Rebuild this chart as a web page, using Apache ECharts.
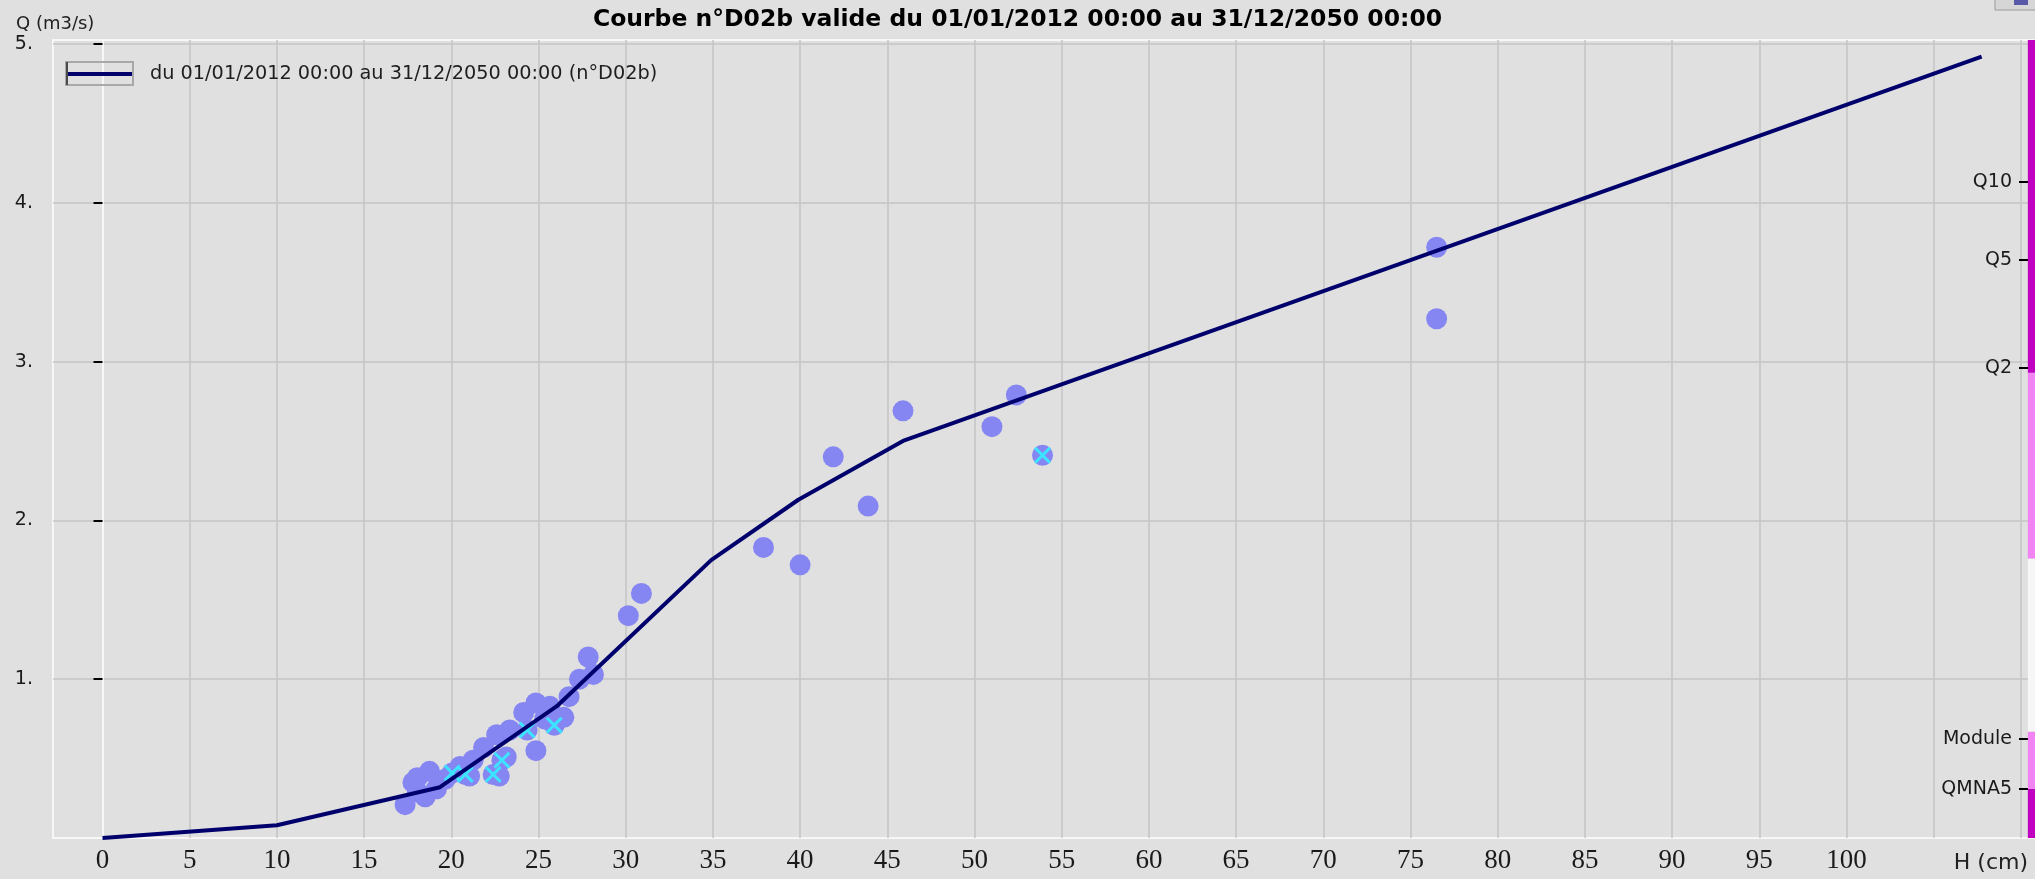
<!DOCTYPE html>
<html>
<head>
<meta charset="utf-8">
<title>Courbe n°D02b</title>
<script src="https://cdn.jsdelivr.net/npm/echarts@6/dist/echarts.min.js"></script>
<style>
html, body { margin: 0; padding: 0; background: #e0e0e0; }
#chart { width: 2035px; height: 879px; }
</style>
</head>
<body>
<div id="chart"></div>
<script>
// courbe de tarage : H (cm) -> Q (m3/s)
var courbeH = [0, 10, 19.35, 26.05, 34.9, 39.9, 45.9, 107.75];
var courbeQ = [0, 0.08, 0.32, 0.83, 1.75, 2.13, 2.5, 4.92];

// jaugeages
var jaugeH = [17.35, 17.8, 18.05, 18.5, 18.75, 18.05, 19.15, 19.65, 20.05, 20.5, 20.8, 21.05, 21.25, 21.85, 22.4, 22.75,
              22.6, 22.9, 23.15, 23.35, 24.15, 24.35, 24.85, 24.85, 25.35, 25.65, 25.9, 26.45, 26.75, 27.35, 27.85, 28.15,
              30.15, 30.9, 37.9, 40.0, 41.9, 43.9, 45.9, 51.0, 52.4, 53.9, 76.5, 76.5];
var jaugeQ = [0.21, 0.35, 0.29, 0.26, 0.42, 0.38, 0.31, 0.37, 0.41, 0.45, 0.40, 0.39, 0.49, 0.57, 0.40, 0.39,
              0.65, 0.49, 0.51, 0.68, 0.79, 0.68, 0.85, 0.55, 0.75, 0.83, 0.71, 0.76, 0.89, 1.00, 1.14, 1.03,
              1.40, 1.54, 1.83, 1.72, 2.40, 2.09, 2.69, 2.59, 2.79, 2.41, 3.72, 3.27];

// jaugeages marqués d'une croix
var croixH = [20.05, 20.8, 22.4, 22.9, 24.35, 25.9, 53.9];
var croixQ = [0.41, 0.40, 0.40, 0.49, 0.68, 0.71, 2.41];

// débits caractéristiques (axe de droite)
var seuilNoms = ['Q10', 'Q5', 'Q2', 'Module', 'QMNA5'];
var seuilQ = [4.13, 3.64, 2.96, 0.625, 0.31];

// bande colorée à droite
var bandeBas = [0, 0.31, 0.67, 1.76, 2.93];
var bandeHaut = [0.31, 0.67, 1.76, 2.93, 5.025];
var bandeCouleur = ['#c000c0', '#f283f2', '#f6f6f6', '#f283f2', '#c000c0'];

// graduations
var xGrille = [0, 5, 10, 15, 20, 25, 30, 35, 40, 45, 50, 55, 60, 65, 70, 75, 80, 85, 90, 95, 100, 105, 110];
var xGraduations = [0, 5, 10, 15, 20, 25, 30, 35, 40, 45, 50, 55, 60, 65, 70, 75, 80, 85, 90, 95, 100];
var yGraduations = [1, 2, 3, 4, 5];

var xMin = -2.84, xMax = 110.81, yMax = 5.025;
var titre = 'Courbe n°D02b valide du 01/01/2012 00:00 au 31/12/2050 00:00';
var legende = 'du 01/01/2012 00:00 au 31/12/2050 00:00 (n°D02b)';

function zip(a, b) {
    return a.map(function (v, i) { return [v, b[i]]; });
}

var chart = echarts.init(document.getElementById('chart'));
chart.setOption({
    backgroundColor: '#e0e0e0',
    animation: false,
    title: [
        {
            text: titre, left: 'center', top: 8, padding: 0,
            textStyle: { fontFamily: 'DejaVu Sans', fontWeight: 'bold', fontSize: 23.5, color: '#000' }
        },
        {
            text: 'Q (m3/s)', left: 16, top: 15, padding: 0,
            textStyle: { fontFamily: 'DejaVu Sans', fontWeight: 'normal', fontSize: 18, color: '#222' }
        },
        {
            text: 'H (cm)', right: 7, top: 852, padding: 0,
            textStyle: { fontFamily: 'DejaVu Sans', fontWeight: 'normal', fontSize: 22, color: '#222' }
        }
    ],
    legend: {
        left: 66, top: 62, padding: 0,
        itemWidth: 67, itemHeight: 23,
        selectedMode: false,
        data: [{ name: legende, icon: 'path://M0,0L0.01,0L0,0.01Z M0,10L67,10L67,14L0,14Z M67,23L66.99,23L67,22.99Z' }],
        textStyle: { fontFamily: 'DejaVu Sans', fontSize: 19.3, color: '#1e1e1e', padding: [0, 0, 0, 12] }
    },
    grid: {
        left: 53, right: 0, top: 40, bottom: 41,
        show: true, borderColor: '#f7f7f7', borderWidth: 2, backgroundColor: 'transparent'
    },
    xAxis: {
        type: 'value', min: xMin, max: xMax,
        axisLine: { show: false },
        axisTick: { show: false, customValues: xGrille },
        axisLabel: {
            customValues: xGraduations, margin: 9,
            fontFamily: 'Liberation Sans Narrow', fontSize: 27, color: '#1a1a1a'
        },
        splitLine: { show: true, lineStyle: { color: '#c4c4c4', width: 1.5 } }
    },
    yAxis: [
        {
            type: 'value', min: 0, max: yMax,
            axisLine: { show: true, lineStyle: { color: '#f7f7f7', width: 2 } },
            axisTick: { show: true, length: 9, customValues: yGraduations, lineStyle: { color: '#000', width: 2 } },
            axisLabel: {
                customValues: yGraduations, margin: 20,
                formatter: function (v) { return v + '.'; },
                fontFamily: 'DejaVu Sans', fontSize: 19, color: '#1a1a1a'
            },
            splitLine: { show: true, lineStyle: { color: '#c4c4c4', width: 1.5 } }
        },
        {
            type: 'value', position: 'right', offset: -7, min: 0, max: yMax,
            axisLine: { show: false },
            axisTick: { show: true, inside: true, length: 9, customValues: seuilQ, lineStyle: { color: '#000', width: 2 } },
            axisLabel: {
                inside: true, customValues: seuilQ, margin: 16,
                formatter: function (v) { return seuilNoms[seuilQ.indexOf(v)]; },
                fontFamily: 'DejaVu Sans', fontSize: 19, color: '#1a1a1a'
            },
            splitLine: { show: false }
        }
    ],
    graphic: [
        { type: 'rect', shape: { x: 66, y: 62, width: 67, height: 23 }, style: { fill: null, stroke: '#a8a8a8', lineWidth: 2 }, z: 10 },
        { type: 'line', shape: { x1: 67, y1: 62, x2: 67, y2: 85 }, style: { stroke: '#4a4a4a', lineWidth: 2 }, z: 10 },
        { type: 'rect', shape: { x: 1995, y: -3, width: 42, height: 13 }, style: { fill: '#d6d6d6', stroke: '#9a9a9a', lineWidth: 1 } },
        { type: 'rect', shape: { x: 2014, y: -3, width: 14, height: 8 }, style: { fill: '#5858a8' } }
    ],
    series: [
        {
            name: 'jaugeages', type: 'scatter', z: 2, silent: true,
            symbol: 'circle', symbolSize: 21,
            itemStyle: { color: '#8686f2', opacity: 1 },
            data: zip(jaugeH, jaugeQ)
        },
        {
            name: 'jaugeages marqués', type: 'scatter', z: 3, silent: true,
            symbol: 'path://M0,2L2,0L8,6L14,0L16,2L10,8L16,14L14,16L8,10L2,16L0,14L6,8Z', symbolSize: 17,
            itemStyle: { color: '#3ce4ff', opacity: 1 },
            data: zip(croixH, croixQ)
        },
        {
            name: legende, type: 'line', z: 4, silent: true,
            showSymbol: false, symbol: 'none',
            lineStyle: { color: '#00006c', width: 4 },
            itemStyle: { color: '#00006c' },
            data: zip(courbeH, courbeQ),
            markArea: {
                silent: true,
                data: bandeBas.map(function (b, i) {
                    return [
                        { xAxis: 110.4, yAxis: b, itemStyle: { color: bandeCouleur[i], opacity: 1 } },
                        { xAxis: xMax, yAxis: bandeHaut[i] }
                    ];
                })
            }
        }
    ]
});
</script>
</body>
</html>
